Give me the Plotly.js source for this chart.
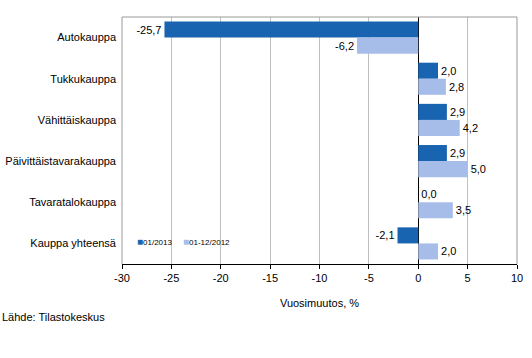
<!DOCTYPE html>
<html>
<head>
<meta charset="utf-8">
<script src="https://cdn.plot.ly/plotly-3.0.1.min.js"></script>
<style>html,body{margin:0;padding:0;background:#fff;}#chart{width:532px;height:358px;}</style>
</head>
<body>
<div id="chart"></div>
<script>
var categories = ["Autokauppa", "Tukkukauppa", "Vähittäiskauppa", "Päivittäistavarakauppa", "Tavaratalokauppa", "Kauppa yhteensä"];
var seriesNames = ["01/2013", "01-12/2012"];
var values2013 = [-25.7, 2.0, 2.9, 2.9, 0.0, -2.1];
var values2012 = [-6.2, 2.8, 4.2, 5.0, 3.5, 2.0];
var xTicks = [-30, -25, -20, -15, -10, -5, 0, 5, 10];
var colors = ["#1864B0", "#A6BDEA"];

var fontFam = "Liberation Sans, Arial, sans-serif";
function mk(vals, name, color) {
  return {
    type: "bar", orientation: "h", y: categories, x: vals, name: name,
    marker: {color: color, line: {width: 0}},
    texttemplate: "%{x:.1f}", textposition: "outside", cliponaxis: false,
    textfont: {family: fontFam, size: 11, color: "#000"},
    hoverinfo: "skip", showlegend: false
  };
}
var data = [mk(values2013, seriesNames[0], colors[0]), mk(values2012, seriesNames[1], colors[1])];

var legendAnn = seriesNames.map(function (n, i) {
  return {text: '<span style="color:' + colors[i] + ';font-size:10px">■</span>' + n,
          xref: "paper", yref: "paper", x: [13 / 395, 59 / 395][i], y: 23 / 247,
          xanchor: "left", yanchor: "middle", showarrow: false,
          font: {family: fontFam, size: 8, color: "#000"}};
});

var layout = {
  width: 532, height: 358,
  margin: {l: 122, r: 15, t: 17, b: 94},
  paper_bgcolor: "#fff", plot_bgcolor: "#fff",
  separators: ",.",
  font: {family: fontFam, size: 11, color: "#000"},
  barmode: "group", bargap: 0.22, bargroupgap: 0,
  showlegend: false,
  xaxis: {range: [-30, 10], tickvals: xTicks, ticktext: xTicks.map(String),
          showgrid: true, gridcolor: "#C0C0C0", gridwidth: 1,
          zeroline: true, zerolinecolor: "#000", zerolinewidth: 1,
          showline: true, linecolor: "#000", linewidth: 1,
          ticks: "outside", ticklen: 4, tickcolor: "#000",
          tickfont: {family: fontFam, size: 11},
          title: {text: "Vuosimuutos, %", font: {family: fontFam, size: 11}, standoff: 16},
          fixedrange: true},
  yaxis: {autorange: "reversed", showgrid: false, zeroline: false, showline: false,
          ticks: "", ticklabelstandoff: 5,
          tickfont: {family: fontFam, size: 11}, fixedrange: true},
  shapes: [
    {type: "line", xref: "paper", yref: "paper", x0: 0, x1: 1, y0: 1, y1: 1, line: {color: "#999", width: 1}},
    {type: "line", xref: "paper", yref: "paper", x0: 1, x1: 1, y0: 0, y1: 1, line: {color: "#999", width: 1}},
    {type: "line", xref: "paper", yref: "paper", x0: 0, x1: 0, y0: 0, y1: 1, line: {color: "#999", width: 1}}
  ],
  annotations: legendAnn.concat([
    {text: "Lähde: Tilastokeskus", xref: "paper", yref: "paper", x: -122 / 395, y: -53 / 247,
     xanchor: "left", yanchor: "middle", showarrow: false, font: {family: fontFam, size: 11, color: "#000"}}
  ])
};
Plotly.newPlot("chart", data, layout, {displayModeBar: false, staticPlot: true});
</script>
</body>
</html>
